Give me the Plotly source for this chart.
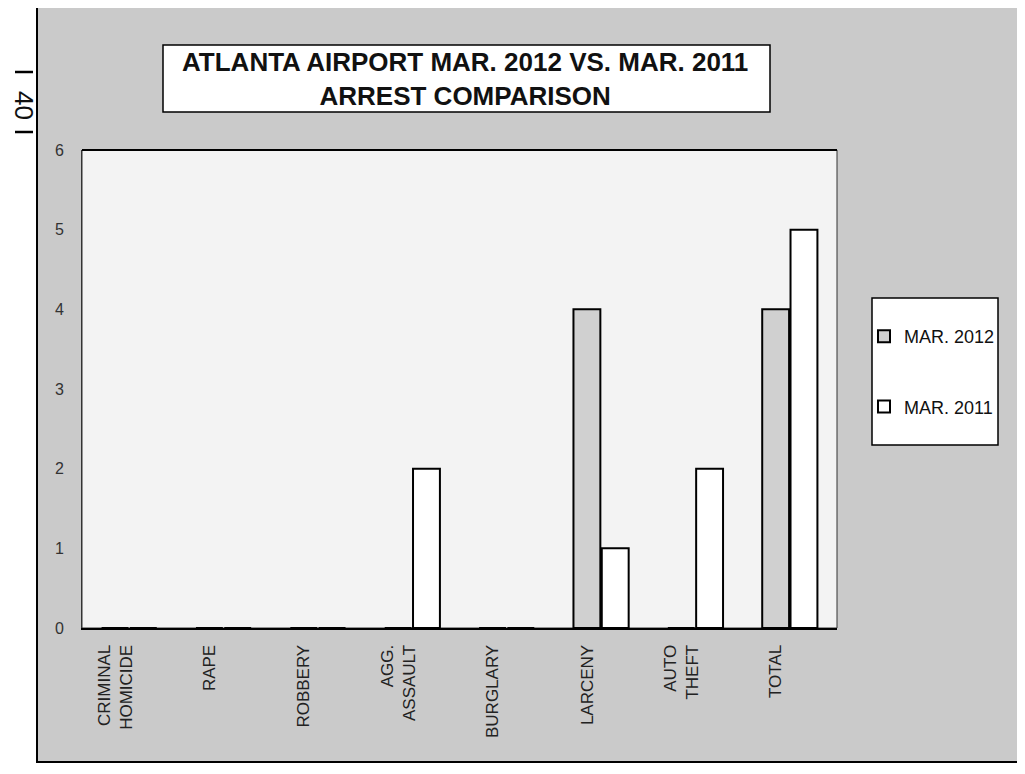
"""Atlanta Airport arrest comparison, March 2012 vs March 2011 (scanned report page)."""

import plotly.graph_objects as go

# chart data
categories = [
    "CRIMINAL<br>HOMICIDE",
    "RAPE",
    "ROBBERY",
    "AGG.<br>ASSAULT",
    "BURGLARY",
    "LARCENY",
    "AUTO<br>THEFT",
    "TOTAL",
]
mar_2012 = [0, 0, 0, 0, 0, 4, 0, 4]
mar_2011 = [0, 0, 0, 2, 0, 1, 2, 5]
series_names = ["MAR. 2012", "MAR. 2011"]
y_ticks = [0, 1, 2, 3, 4, 5, 6]
title_lines = ["ATLANTA AIRPORT MAR. 2012 VS. MAR. 2011", "ARREST COMPARISON"]
page_number = "40"

FONT = "Liberation Sans, Arial, sans-serif"
PAGE_GRAY = "#cacaca"
PLOT_BG = "#f3f3f3"

# the page body adds an 8px offset, so the figure is 8px smaller than the window
W, H = 1017, 766
L, R, T, B = 74, 188, 142, 146


def px_x(x):
    """Figure pixel -> paper x."""
    return (x - L) / (W - L - R)


def px_y(y):
    """Figure pixel -> paper y."""
    return 1 - (y - T) / (H - T - B)


fig = go.Figure()

fig.add_trace(
    go.Bar(
        x=categories,
        y=mar_2012,
        name=series_names[0],
        legendgroup="a",
        marker=dict(color="#d0d0d0", line=dict(color="black", width=2)),
    )
)  # gray bars
fig.add_trace(
    go.Bar(
        x=categories,
        y=mar_2011,
        name=series_names[1],
        legendgroup="b",
        marker=dict(color="white", line=dict(color="black", width=2)),
    )
)  # white bars

shapes = [
    # gray page panel behind everything
    dict(type="rect", xref="paper", yref="paper", x0=px_x(29), x1=px_x(1030), y0=px_y(754), y1=px_y(-4),
         fillcolor=PAGE_GRAY, line=dict(color="black", width=2), layer="below"),
    # plot area
    dict(type="rect", xref="paper", yref="paper", x0=0, x1=1, y0=0, y1=1,
         fillcolor=PLOT_BG, line=dict(color="#333333", width=1), layer="below"),
    # title box
    dict(type="rect", xref="paper", yref="paper", x0=px_x(155), x1=px_x(762), y0=px_y(104), y1=px_y(37),
         fillcolor="white", line=dict(color="black", width=1.5)),
    # legend box
    dict(type="rect", xref="paper", yref="paper", x0=px_x(864), x1=px_x(990), y0=px_y(437), y1=px_y(290),
         fillcolor="white", line=dict(color="black", width=1.5), layer="below"),
    # thick top edge of plot area
    dict(type="line", xref="paper", yref="paper", x0=0, x1=1, y0=1, y1=1,
         line=dict(color="black", width=2)),
    # dashes around the page number
    dict(type="line", xref="paper", yref="paper", x0=px_x(7), x1=px_x(25), y0=px_y(64), y1=px_y(64),
         line=dict(color="black", width=2.5)),
    dict(type="line", xref="paper", yref="paper", x0=px_x(7), x1=px_x(25), y0=px_y(124), y1=px_y(124),
         line=dict(color="black", width=2.5)),
]

annotations = [
    dict(text="<b>" + "<br>".join(title_lines) + "</b>", xref="paper", yref="paper",
         x=px_x(457), y=px_y(71), showarrow=False, xanchor="center", yanchor="middle",
         font=dict(family=FONT, size=26, color="#111111")),
    dict(text=page_number, xref="paper", yref="paper", x=px_x(16), y=px_y(97),
         showarrow=False, textangle=90, xanchor="center", yanchor="middle",
         font=dict(family=FONT, size=26, color="#111111")),
]

fig.update_layout(
    width=W,
    height=H,
    margin=dict(l=L, r=R, t=T, b=B),
    paper_bgcolor="white",
    plot_bgcolor="rgba(0,0,0,0)",
    barmode="group",
    bargap=0.40,
    bargroupgap=0.05,
    font=dict(family=FONT, color="#222222"),
    shapes=shapes,
    annotations=annotations,
    legend=dict(
        x=px_x(856), y=px_y(310), xanchor="left", yanchor="top",
        bgcolor="rgba(0,0,0,0)",
        traceorder="grouped",
        tracegroupgap=44,
        font=dict(family=FONT, size=18, color="#111111"),
    ),
    xaxis=dict(
        automargin=False,
        tickangle=-90,
        tickfont=dict(family=FONT, size=17, color="#222222"),
        showline=True, linecolor="black", linewidth=2,
        ticks="", ticklabelshift=-14, ticklabelstandoff=8,
    ),
    yaxis=dict(
        automargin=False,
        range=[0, 6],
        tickvals=y_ticks,
        showgrid=False, zeroline=False,
        showline=True, linecolor="#333333", linewidth=1,
        ticks="", ticklabelstandoff=14,
        tickfont=dict(family=FONT, size=16, color="#333333"),
    ),
)

fig.write_html("out.html")
